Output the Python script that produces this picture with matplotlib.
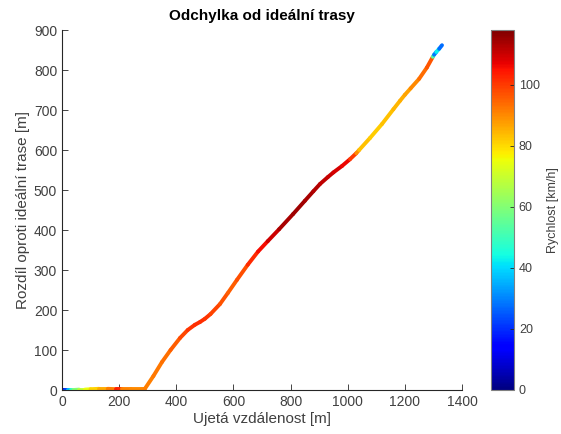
import numpy as np
import matplotlib
matplotlib.use("Agg")
import matplotlib.pyplot as plt
from matplotlib.collections import LineCollection

plt.rcParams['font.family'] = ['Liberation Sans', 'DejaVu Sans']

# distance travelled [m]
dist = [0, 10, 20, 30, 40, 60, 80, 100, 130, 160, 190, 200, 210, 240, 280, 290,
        320, 350, 380, 413, 440, 465, 483, 500, 520, 553, 580, 612, 650, 686,
        720, 760, 809, 850, 880, 903, 930, 950, 980, 1008, 1030, 1040, 1078,
        1120, 1160, 1183, 1200, 1220, 1250, 1277, 1298, 1302, 1310, 1320, 1330]
# deviation from ideal track [m]
dev = [0, 0, 0, 0, 0, 1, 1, 2, 3, 3, 2, 2, 2, 2, 2, 3,
       35, 70, 100, 130, 150, 163, 170, 178, 190, 215, 242, 275, 313, 346,
       372, 402, 440, 473, 497, 515, 532, 544, 560, 577, 592, 600, 630,
       665, 702, 723, 738, 754, 778, 806, 833, 838, 845, 853, 862]
# speed [km/h]
speed = [2, 15, 30, 45, 55, 65, 72, 78, 84, 88, 95, 112, 92, 90, 90, 91,
         92, 93, 94, 97, 100, 101, 102, 101, 100, 98, 96, 95, 100, 104,
         108, 112, 115, 114, 113, 112, 111, 110, 108, 105, 95, 84, 82,
         82, 84, 85, 86, 88, 92, 96, 97, 8, 50, 35, 20]

x_ticks = [0, 200, 400, 600, 800, 1000, 1200, 1400]
y_ticks = [0, 100, 200, 300, 400, 500, 600, 700, 800, 900]
cb_ticks = [0, 20, 40, 60, 80, 100]

W, H = 561, 434
fig = plt.figure(figsize=(W/100, H/100), dpi=100)
ax = fig.add_axes([62/W, (H-390)/H, 400/W, 360/H])
cax = fig.add_axes([491/W, (H-390)/H, 23/W, 360/H])

pts = np.column_stack([dist, dev]).reshape(-1, 1, 2)
segs = np.concatenate([pts[:-1], pts[1:]], axis=1)
segc = 0.5*(np.array(speed[:-1]) + np.array(speed[1:]))
lc = LineCollection(segs, cmap='jet', norm=plt.Normalize(0, 118), linewidth=2.8,
                    capstyle='round', joinstyle='round')
lc.set_array(segc)
ax.add_collection(lc)

ax.set_xlim(0, 1400)
ax.set_ylim(0, 900)
ax.set_xticks(x_ticks)
ax.set_yticks(y_ticks)
axc = '#262626'
for s in ['top', 'right']:
    ax.spines[s].set_visible(False)
for s in ['left', 'bottom']:
    ax.spines[s].set_color(axc)
    ax.spines[s].set_linewidth(0.8)
ax.tick_params(direction='in', length=4, width=0.6, colors=axc, labelsize=10,
               labelcolor='#404040')
ax.set_title('Odchylka od ideální trasy', fontsize=11, fontweight='bold', color='black', pad=7)
ax.set_xlabel('Ujetá vzdálenost [m]', fontsize=11, color='#404040', labelpad=2)
ax.set_ylabel('Rozdíl oproti ideální trase [m]', fontsize=11, color='#404040', labelpad=3)

cb = fig.colorbar(lc, cax=cax)
cb.set_ticks(cb_ticks)
cb.outline.set_edgecolor('#808080')
cb.outline.set_linewidth(0.8)
cax.tick_params(direction='in', length=3, width=0.6, colors=axc, labelsize=9,
                labelcolor='#404040', right=True, left=False)
fig.text(553/W, 1 - 210/H, 'Rychlost [km/h]', rotation=90, fontsize=9,
         color='#404040', ha='center', va='center')

fig.savefig('out.png', dpi=100)
